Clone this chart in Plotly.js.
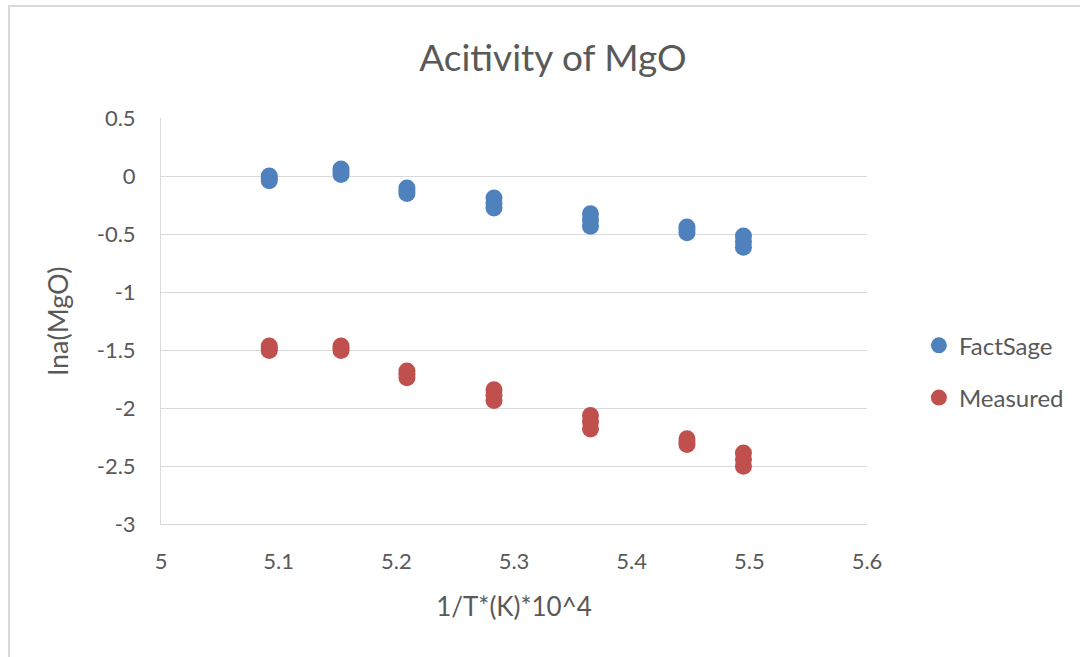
<!DOCTYPE html>
<html>
<head>
<meta charset="utf-8">
<script src="https://cdn.plot.ly/plotly-3.0.1.min.js"></script>
<style>
html,body{margin:0;padding:0;background:#fff;}
#wrap{position:relative;width:1080px;height:657px;overflow:hidden;}
#frame{position:absolute;left:8px;top:5px;width:1100px;height:700px;border-left:2px solid #d9d9d9;border-top:2px solid #d9d9d9;pointer-events:none;}
#chart{position:absolute;left:0;top:0;width:1080px;height:657px;}
</style>
</head>
<body>
<div id="wrap"><div id="chart"></div><div id="frame"></div></div>
<script>
const factSageX = [5.092,5.092,5.092, 5.153,5.153,5.153, 5.209,5.209,5.209, 5.283,5.283,5.283, 5.365,5.365,5.365, 5.447,5.447,5.447, 5.495,5.495,5.495];
const factSageY = [0.0,-0.02,-0.04, 0.06,0.035,0.013, -0.104,-0.13,-0.151, -0.19,-0.235,-0.275, -0.326,-0.38,-0.433, -0.44,-0.465,-0.49, -0.518,-0.565,-0.614];
const measuredX = [5.092,5.092,5.092, 5.153,5.153,5.153, 5.209,5.209,5.209, 5.283,5.283,5.283, 5.365,5.365,5.365, 5.447,5.447,5.447, 5.495,5.495,5.495];
const measuredY = [-1.466,-1.485,-1.504, -1.466,-1.485,-1.504, -1.682,-1.71,-1.74, -1.843,-1.89,-1.935, -2.065,-2.12,-2.18, -2.266,-2.29,-2.315, -2.389,-2.445,-2.502];
const xTicks = [5,5.1,5.2,5.3,5.4,5.5,5.6];
const xTickText = ['5','5.1','5.2','5.3','5.4','5.5','5.6'];
const yTicks = [0.5,0,-0.5,-1,-1.5,-2,-2.5,-3];
const yTickText = ['0.5','0','-0.5','-1','-1.5','-2','-2.5','-3'];

const FONT = 'Lato, "Open Sans", sans-serif';
const traces = [
  {x: factSageX, y: factSageY, name: 'FactSage', type: 'scatter', mode: 'markers', legendgroup: 'a',
   marker: {color: '#4f81bd', size: 17}},
  {x: measuredX, y: measuredY, name: 'Measured', type: 'scatter', mode: 'markers', legendgroup: 'b',
   marker: {color: '#c0504d', size: 17}}
];
const layout = {
  width: 1080, height: 657,
  margin: {l: 161, r: 212, t: 118, b: 133},
  paper_bgcolor: '#fff', plot_bgcolor: '#fff',
  font: {family: FONT, color: '#595959', size: 22},
  title: {text: 'Acitivity of MgO', font: {family: FONT, size: 37, color: '#595959'}, x: 0.512, xanchor: 'center', y: 0.912, yanchor: 'middle'},
  xaxis: {range: [5, 5.6], tickvals: xTicks, ticktext: xTickText, showgrid: false, zeroline: false,
          showline: true, linecolor: '#d9d9d9', linewidth: 1, ticks: 'outside', ticklen: 18, tickcolor: 'rgba(0,0,0,0)',
          title: {text: '1/T*(K)*10^4', font: {family: FONT, size: 26, color: '#595959'}, standoff: 24}},
  yaxis: {range: [-3, 0.5], tickvals: yTicks, ticktext: yTickText, showgrid: true, gridcolor: '#d9d9d9', gridwidth: 1,
          zeroline: false, showline: true, linecolor: '#d9d9d9', linewidth: 1,
          ticks: 'outside', ticklen: 20, tickcolor: 'rgba(0,0,0,0)',
          title: {text: 'lna(MgO)', font: {family: FONT, size: 27, color: '#595959'}, standoff: 20}},
  legend: {x: 1.072, xanchor: 'left', y: 0.375, yanchor: 'middle', font: {family: FONT, size: 24, color: '#595959'},
           traceorder: 'grouped', tracegroupgap: 18, itemwidth: 30},
  showlegend: true
};
Plotly.newPlot('chart', traces, layout, {displayModeBar: false, staticPlot: true});
</script>
</body>
</html>
